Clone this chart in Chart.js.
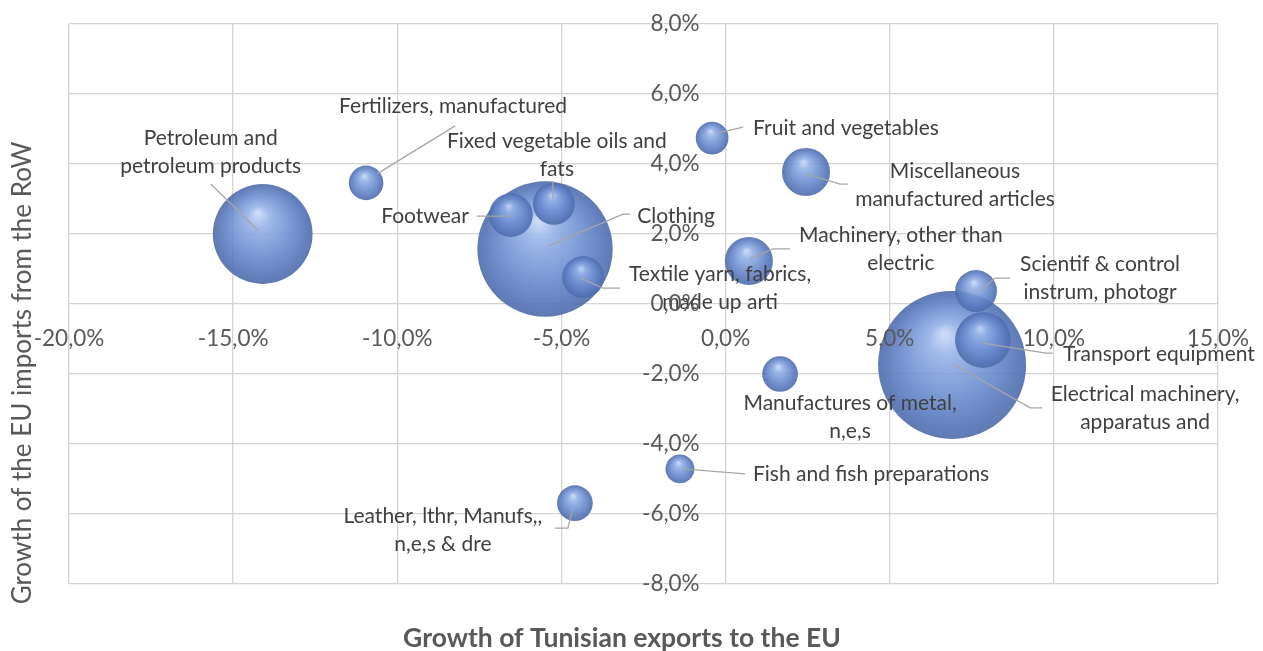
<!DOCTYPE html>
<html>
<head>
<meta charset="utf-8">
<script src="https://cdn.jsdelivr.net/npm/chart.js@4"></script>
<style>
  html, body { margin: 0; padding: 0; background: #fff; }
  #wrap { width: 1263px; height: 651px; }
</style>
</head>
<body>
<div id="wrap"><canvas id="bubbleChart"></canvas></div>
<script>
// product groups (label text as shown, \n = line break)
var categories = [
  'Electrical machinery,\napparatus and',
  'Clothing',
  'Petroleum and\npetroleum products',
  'Transport equipment',
  'Miscellaneous\nmanufactured articles',
  'Machinery, other than\nelectric',
  'Footwear',
  'Fixed vegetable oils and\nfats',
  'Textile yarn, fabrics,\nmade up arti',
  'Scientif & control\ninstrum, photogr',
  'Manufactures of metal,\nn,e,s',
  'Leather, lthr, Manufs,,\nn,e,s & dre',
  'Fertilizers, manufactured',
  'Fruit and vegetables',
  'Fish and fish preparations'
];
// growth of Tunisian exports to the EU (%)
var exportGrowth = [6.9, -5.5, -14.1, 7.84, 2.45, 0.71, -6.54, -5.23, -4.34, 7.63, 1.66, -4.59, -10.95, -0.41, -1.39];
// growth of the EU imports from the RoW (%)
var importGrowth = [-1.74, 1.57, 2.0, -1.03, 3.77, 1.23, 2.54, 2.86, 0.77, 0.37, -2.0, -5.69, 3.46, 4.74, -4.71];
// bubble size (relative trade value)
var bubbleSize = [5500, 4600, 2500, 780, 580, 580, 480, 440, 440, 440, 320, 320, 300, 270, 210];

var xTicks = [-20, -15, -10, -5, 0, 5, 10, 15];
var yTicks = [-8, -6, -4, -2, 0, 2, 4, 6, 8];

var MAX_R = 74;
var maxSize = Math.max.apply(null, bubbleSize);

// label placement: px offsets from the bubble centre
var labelLayout = [
  {align: 'center', dx: 193, dy: 43, leader: [[1, -1], [78, 43], [90, 43]]},
  {align: 'center', dx: 131, dy: -33, leader: [[3, -3], [78, -35], [85, -35]]},
  {align: 'center', dx: -52, dy: -82, leader: [[-4, -3], [-52, -50]]},
  {align: 'left', dx: 80, dy: 14, leader: [[0, 3], [63, 13], [70, 13]]},
  {align: 'center', dx: 149, dy: 13, leader: [[1, 2], [34, 12], [42, 12]]},
  {align: 'center', dx: 152, dy: -12, leader: [[1, -2], [24, -12], [41, -12]]},
  {align: 'right', dx: -42, dy: 1, leader: [[-1, 1], [-34, 1]]},
  {align: 'center', dx: 3, dy: -49, leader: [[-1, -5], [-1, -23]]},
  {align: 'center', dx: 137, dy: 11, leader: [[-3, 1], [20, 11], [37, 11]]},
  {align: 'center', dx: 124, dy: -13, leader: [[4, 0], [19, -13], [34, -13]]},
  {align: 'center', dx: 70, dy: 43, leader: null},
  {align: 'center', dx: -132, dy: 27, leader: [[-2, 5], [-7, 25], [-20, 25]]},
  {align: 'center', dx: 87, dy: -77, leader: [[11, -9], [89, -57]]},
  {align: 'left', dx: 41, dy: -10, leader: [[5, -5], [31, -11]]},
  {align: 'left', dx: 73, dy: 5, leader: [[3, 0], [65, 5]]}
];

var points = categories.map(function(c, i) {
  return {x: exportGrowth[i], y: importGrowth[i], r: MAX_R * Math.sqrt(bubbleSize[i] / maxSize)};
});

function pct(v) {
  return v.toFixed(1).replace('.', ',') + '%';
}

function bubbleFill(context) {
  var chart = context.chart;
  var p = context.raw;
  if (!p || !chart.chartArea) return 'rgba(100,135,205,0.85)';
  var cx = chart.scales.x.getPixelForValue(p.x);
  var cy = chart.scales.y.getPixelForValue(p.y);
  var r = p.r;
  var g = chart.ctx.createRadialGradient(cx - 0.1 * r, cy - 0.42 * r, r * 0.03, cx, cy, r);
  g.addColorStop(0, 'rgba(196,214,246,0.88)');
  g.addColorStop(0.2, 'rgba(146,176,230,0.88)');
  g.addColorStop(0.55, 'rgba(108,142,208,0.88)');
  g.addColorStop(0.88, 'rgba(84,116,184,0.9)');
  g.addColorStop(1, 'rgba(78,108,170,0.9)');
  return g;
}

// drop the overflow padding the scales ask for, the plot area is set by layout.padding
function noScalePadding(scale) {
  scale.paddingTop = 0;
  scale.paddingBottom = 0;
  scale.paddingLeft = 0;
  scale.paddingRight = 0;
}

var bubbleLabels = {
  id: 'bubbleLabels',
  afterDatasetsDraw: function(chart) {
    var ctx = chart.ctx;
    var meta = chart.getDatasetMeta(0);
    ctx.save();
    meta.data.forEach(function(pt, i) {
      var lay = labelLayout[i];
      var cx = pt.x, cy = pt.y;
      if (lay.leader) {
        ctx.beginPath();
        lay.leader.forEach(function(p, k) {
          if (k === 0) ctx.moveTo(cx + p[0], cy + p[1]);
          else ctx.lineTo(cx + p[0], cy + p[1]);
        });
        ctx.strokeStyle = '#a6a6a6';
        ctx.lineWidth = 1.3;
        ctx.stroke();
      }
      var lines = categories[i].split('\n');
      ctx.font = '21px Lato';
      ctx.fillStyle = '#404040';
      ctx.textAlign = lay.align;
      ctx.textBaseline = 'middle';
      lines.forEach(function(t, k) {
        ctx.fillText(t, cx + lay.dx, cy + lay.dy + (k - (lines.length - 1) / 2) * 28);
      });
    });
    ctx.restore();
  },
  afterDraw: function(chart) {
    var ctx = chart.ctx;
    ctx.save();
    ctx.fillStyle = '#595959';
    ctx.textAlign = 'center';
    ctx.textBaseline = 'middle';
    ctx.font = 'bold 26.5px Lato';
    ctx.fillText('Growth of Tunisian exports to the EU', 622, 638);
    ctx.translate(23, 373);
    ctx.rotate(-Math.PI / 2);
    ctx.font = '26px Lato';
    ctx.fillText('Growth of the EU imports from the RoW', 0, 0);
    ctx.restore();
  }
};

new Chart(document.getElementById('bubbleChart'), {
  type: 'bubble',
  data: {
    datasets: [{
      data: points,
      backgroundColor: bubbleFill,
      borderWidth: 0
    }]
  },
  options: {
    responsive: true,
    maintainAspectRatio: false,
    animation: false,
    events: [],
    layout: {autoPadding: false, padding: {left: 69, top: 24, right: 45, bottom: 67}},
    plugins: {legend: {display: false}, tooltip: {enabled: false}},
    scales: {
      x: {
        type: 'linear',
        min: -20,
        max: 15,
        position: {y: 0},
        afterBuildTicks: function(scale) { scale.ticks = xTicks.map(function(v) { return {value: v}; }); },
        afterFit: noScalePadding,
        grid: {color: '#d4d4d4', lineWidth: 1.3, drawTicks: false},
        border: {display: false},
        ticks: {z: 1, padding: 21, color: '#595959', font: {family: 'Lato', size: 22.5}, callback: function(v) { return pct(v); }}
      },
      y: {
        type: 'linear',
        min: -8,
        max: 8,
        // labels sit ~26px left of the zero line; the zero gridline stands in for the axis line
        position: {x: -0.79},
        afterBuildTicks: function(scale) { scale.ticks = yTicks.map(function(v) { return {value: v}; }); },
        afterFit: noScalePadding,
        grid: {color: '#d4d4d4', lineWidth: 1.3, drawTicks: false},
        border: {display: false},
        ticks: {z: 1, color: '#595959', font: {family: 'Lato', size: 22.5}, callback: function(v) { return pct(v); }}
      }
    }
  },
  plugins: [bubbleLabels]
});
</script>
</body>
</html>
